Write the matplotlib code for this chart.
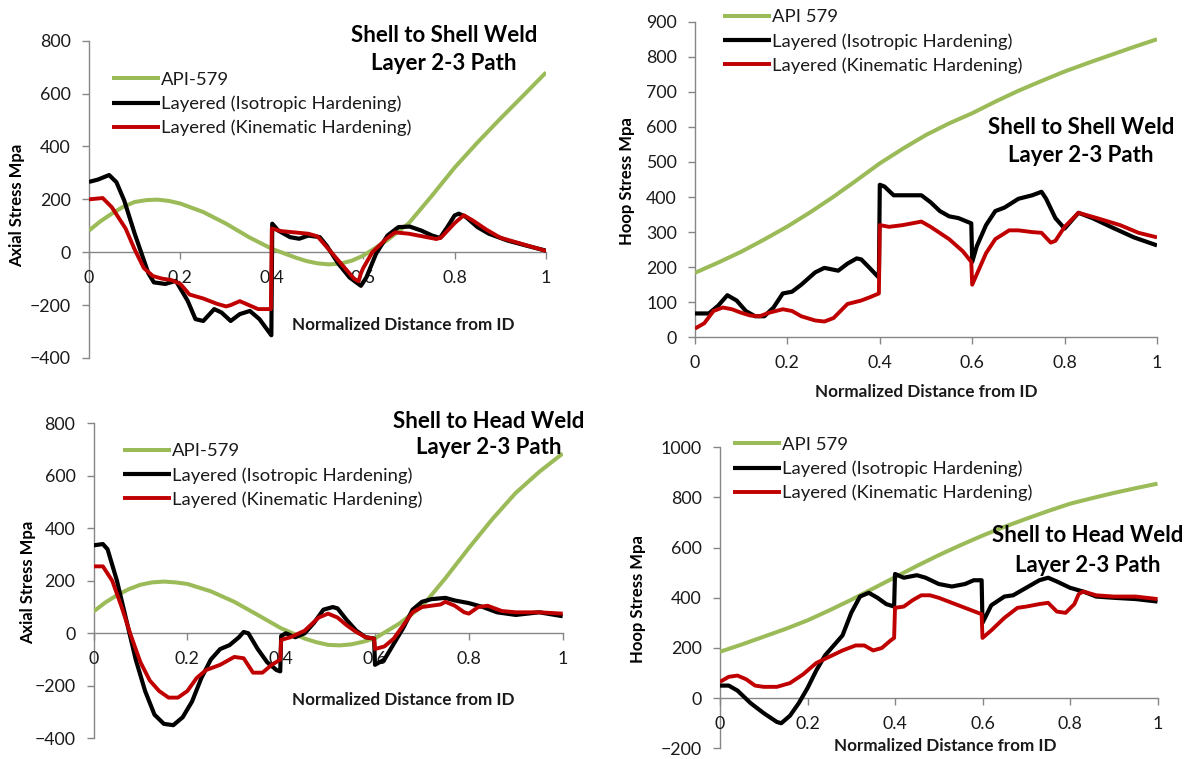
import matplotlib
matplotlib.use("Agg")
import matplotlib.pyplot as plt

plt.rcParams['font.family'] = ['Lato', 'DejaVu Sans']

W, H = 1187, 759

GREEN = '#9BBB59'
BLACK = '#000000'
RED = '#C00000'
AXIS_GRAY = '#868686'

labels_axial = ['API-579', 'Layered (Isotropic Hardening)', 'Layered (Kinematic Hardening)']
labels_hoop = ['API 579', 'Layered (Isotropic Hardening)', 'Layered (Kinematic Hardening)']

# --- shell to shell, axial ---
x_api_ss_ax = [0, 0.025, 0.05, 0.075, 0.1, 0.125, 0.15, 0.175, 0.2, 0.25, 0.3, 0.35, 0.4, 0.45, 0.475, 0.5,
               0.525, 0.55, 0.575, 0.6, 0.65, 0.7, 0.75, 0.8, 0.85, 0.9, 0.95, 1.0]
api_ss_ax = [82, 117, 146, 172, 190, 197, 199, 194, 184, 152, 108, 57, 13, -19, -33, -42,
             -46, -43, -32, -13, 42, 110, 213, 320, 415, 505, 592, 680]
x_iso_ss_ax = [0, 0.02, 0.044, 0.06, 0.077, 0.1, 0.114, 0.13, 0.142, 0.167, 0.19, 0.216, 0.233, 0.25, 0.274, 0.29,
               0.31, 0.33, 0.352, 0.373, 0.393, 0.399, 0.401, 0.414, 0.44, 0.46, 0.48, 0.505, 0.52, 0.546, 0.57,
               0.595, 0.607, 0.628, 0.653, 0.677, 0.702, 0.727, 0.751, 0.768, 0.784, 0.8, 0.809, 0.825, 0.85,
               0.875, 0.916, 0.957, 1.0]
iso_ss_ax = [266, 275, 292, 265, 196, 70, 0, -80, -114, -120, -108, -184, -253, -260, -215, -228,
             -260, -234, -222, -253, -300, -314, 108, 82, 57, 51, 63, 57, 25, -44, -95,
             -127, -95, -6, 63, 95, 97, 82, 63, 54, 95, 139, 146, 133, 95,
             70, 44, 25, 6]
x_kin_ss_ax = [0, 0.03, 0.05, 0.08, 0.1, 0.12, 0.14, 0.16, 0.18, 0.2, 0.22, 0.25, 0.28, 0.3, 0.31, 0.33, 0.35,
               0.37, 0.398, 0.4, 0.42, 0.45, 0.48, 0.5, 0.52, 0.55, 0.58, 0.59, 0.595, 0.6, 0.62, 0.65, 0.67,
               0.7, 0.73, 0.76, 0.77, 0.8, 0.82, 0.84, 0.87, 0.9, 0.95, 1.0]
kin_ss_ax = [200, 205, 170, 90, 10, -60, -90, -100, -105, -120, -160, -175, -195, -205, -200, -185, -200,
             -215, -215, 90, 80, 75, 70, 60, 20, -40, -100, -110, -80, -60, 0, 50, 75,
             70, 60, 50, 55, 110, 140, 120, 85, 55, 30, 5]

# --- shell to shell, hoop ---
x_api_ss_hp = [0, 0.05, 0.1, 0.15, 0.2, 0.25, 0.3, 0.35, 0.4, 0.45, 0.5, 0.55, 0.6, 0.65, 0.7, 0.75, 0.8, 0.85, 0.9, 0.95, 1.0]
api_ss_hp = [184, 213, 244, 279, 316, 357, 401, 448, 496, 538, 577, 610, 639, 672, 703, 731, 758, 782, 805, 828, 850]
x_iso_ss_hp = [0, 0.03, 0.05, 0.07, 0.09, 0.11, 0.13, 0.15, 0.17, 0.19, 0.21, 0.23, 0.26, 0.28, 0.31, 0.33, 0.35,
               0.36, 0.38, 0.398, 0.4, 0.41, 0.43, 0.46, 0.49, 0.51, 0.53, 0.55, 0.57, 0.598, 0.6, 0.61, 0.63,
               0.65, 0.67, 0.7, 0.73, 0.75, 0.76, 0.78, 0.8, 0.83, 0.86, 0.9, 0.95, 1.0]
iso_ss_hp = [68, 68, 90, 120, 105, 75, 60, 60, 85, 125, 130, 150, 185, 198, 190, 210, 225,
             222, 195, 170, 435, 430, 405, 405, 405, 385, 360, 345, 340, 325, 215, 260, 320,
             360, 370, 395, 405, 415, 395, 340, 310, 355, 340, 315, 285, 262]
x_kin_ss_hp = [0, 0.02, 0.04, 0.06, 0.08, 0.1, 0.12, 0.14, 0.16, 0.19, 0.21, 0.23, 0.26, 0.28, 0.3, 0.33, 0.36,
               0.38, 0.398, 0.4, 0.42, 0.45, 0.49, 0.51, 0.55, 0.58, 0.598, 0.6, 0.61, 0.63, 0.65, 0.68, 0.7,
               0.73, 0.75, 0.77, 0.78, 0.8, 0.83, 0.87, 0.92, 0.96, 1.0]
kin_ss_hp = [25, 40, 75, 85, 80, 70, 62, 60, 70, 80, 75, 60, 48, 45, 55, 95, 105,
             115, 125, 320, 315, 320, 330, 315, 280, 245, 215, 150, 180, 240, 280, 305, 305,
             300, 298, 270, 275, 315, 355, 340, 320, 298, 285]

# --- shell to head, axial ---
x_api_sh_ax = [0, 0.025, 0.05, 0.075, 0.1, 0.125, 0.15, 0.175, 0.2, 0.25, 0.3, 0.35, 0.4, 0.45, 0.475, 0.5,
               0.525, 0.55, 0.575, 0.6, 0.65, 0.7, 0.75, 0.8, 0.85, 0.9, 0.95, 1.0]
api_sh_ax = [83, 117, 145, 168, 185, 194, 197, 194, 188, 160, 120, 70, 19, -20, -34, -44,
             -46, -42, -32, -19, 35, 102, 210, 325, 435, 535, 615, 685]
x_iso_sh_ax = [0, 0.02, 0.03, 0.05, 0.07, 0.09, 0.11, 0.13, 0.15, 0.17, 0.19, 0.21, 0.23, 0.25, 0.27, 0.29, 0.31,
               0.32, 0.33, 0.35, 0.37, 0.39, 0.398, 0.4, 0.41, 0.43, 0.45, 0.47, 0.49, 0.51, 0.52, 0.54, 0.56,
               0.58, 0.598, 0.6, 0.62, 0.64, 0.66, 0.68, 0.7, 0.72, 0.75, 0.77, 0.8, 0.83, 0.86, 0.9, 0.95, 1.0]
iso_sh_ax = [335, 340, 320, 200, 50, -100, -220, -310, -345, -350, -320, -260, -170, -100, -60, -45, -15,
             5, 0, -60, -110, -140, -145, -10, 0, -15, 0, 40, 90, 100, 95, 50, 10,
             -15, -20, -120, -100, -40, 20, 90, 120, 130, 135, 125, 115, 100, 80, 70, 80, 65]
x_kin_sh_ax = [0, 0.02, 0.04, 0.06, 0.08, 0.1, 0.12, 0.14, 0.16, 0.18, 0.2, 0.22, 0.24, 0.27, 0.3, 0.32, 0.34,
               0.36, 0.38, 0.398, 0.4, 0.42, 0.45, 0.48, 0.5, 0.52, 0.54, 0.56, 0.58, 0.598, 0.6, 0.62, 0.64,
               0.66, 0.68, 0.7, 0.72, 0.74, 0.75, 0.77, 0.79, 0.8, 0.82, 0.84, 0.87, 0.9, 0.95, 1.0]
kin_sh_ax = [255, 255, 200, 100, -10, -110, -180, -220, -245, -245, -220, -170, -140, -120, -90, -95, -150,
             -150, -120, -100, -25, -15, 10, 60, 75, 60, 30, 5, -15, -20, -60, -50, -20,
             30, 80, 100, 105, 110, 120, 105, 80, 75, 100, 105, 85, 80, 80, 75]

# --- shell to head, hoop ---
x_api_sh_hp = [0, 0.05, 0.1, 0.15, 0.2, 0.25, 0.3, 0.35, 0.4, 0.45, 0.5, 0.55, 0.6, 0.65, 0.7, 0.75, 0.8, 0.85, 0.9, 0.95, 1.0]
api_sh_hp = [185, 214, 245, 276, 310, 350, 392, 437, 482, 527, 570, 610, 648, 683, 715, 746, 775, 797, 818, 837, 855]
x_iso_sh_hp = [0, 0.02, 0.04, 0.07, 0.1, 0.13, 0.14, 0.16, 0.18, 0.2, 0.22, 0.24, 0.26, 0.28, 0.3, 0.32, 0.34,
               0.36, 0.38, 0.398, 0.4, 0.42, 0.45, 0.47, 0.5, 0.53, 0.56, 0.58, 0.598, 0.6, 0.62, 0.65, 0.67,
               0.7, 0.73, 0.75, 0.77, 0.8, 0.83, 0.86, 0.9, 0.95, 1.0]
iso_sh_hp = [50, 50, 30, -20, -60, -95, -100, -70, -20, 40, 110, 170, 210, 250, 340, 405, 420,
             400, 375, 365, 495, 480, 490, 480, 455, 445, 455, 470, 470, 300, 370, 405, 410,
             440, 470, 480, 465, 440, 425, 405, 400, 395, 385]
x_kin_sh_hp = [0, 0.02, 0.04, 0.06, 0.08, 0.1, 0.13, 0.16, 0.19, 0.22, 0.25, 0.28, 0.31, 0.33, 0.35, 0.37, 0.39,
               0.398, 0.4, 0.42, 0.44, 0.46, 0.48, 0.5, 0.53, 0.56, 0.59, 0.598, 0.6, 0.62, 0.65, 0.68, 0.7,
               0.73, 0.75, 0.77, 0.79, 0.81, 0.82, 0.83, 0.86, 0.9, 0.95, 1.0]
kin_sh_hp = [65, 85, 90, 75, 50, 45, 45, 60, 95, 140, 165, 190, 210, 210, 190, 200, 230,
             240, 360, 365, 390, 410, 410, 400, 380, 360, 340, 335, 240, 270, 320, 360, 365,
             375, 380, 345, 340, 375, 415, 425, 410, 405, 405, 395]

x_ticks = [0, 0.2, 0.4, 0.6, 0.8, 1]
x_ticklabels = ['0', '0.2', '0.4', '0.6', '0.8', '1']


def px_box(left, top, right, bottom):
    return [left / W, 1 - bottom / H, (right - left) / W, (bottom - top) / H]


def fpos(x, y):
    return (x / W, 1 - y / H)


fig = plt.figure(figsize=(W / 100, H / 100), dpi=100)
fig.patch.set_facecolor('white')

panels = [
    dict(box=(89, 40.7, 546, 358), ylim=(-400, 800), step=200, labels=labels_axial,
         data=[(x_api_ss_ax, api_ss_ax), (x_iso_ss_ax, iso_ss_ax), (x_kin_ss_ax, kin_ss_ax)],
         leg=(112, 104), ylabel='Axial Stress Mpa', ylab_pos=(17, 205),
         title=(444, 36, 63), title_text='Shell to Shell Weld', xlab_pos=(403, 325)),
    dict(box=(695, 21.7, 1157, 337.3), ylim=(0, 900), step=100, labels=labels_hoop,
         data=[(x_api_ss_hp, api_ss_hp), (x_iso_ss_hp, iso_ss_hp), (x_kin_ss_hp, kin_ss_hp)],
         leg=(723, 41.5), ylabel='Hoop Stress Mpa', ylab_pos=(627, 181),
         title=(1081, 127, 155), title_text='Shell to Shell Weld', xlab_pos=(926, 392)),
    dict(box=(93.5, 423.3, 562.7, 738.3), ylim=(-400, 800), step=200, labels=labels_axial,
         data=[(x_api_sh_ax, api_sh_ax), (x_iso_sh_ax, iso_sh_ax), (x_kin_sh_ax, kin_sh_ax)],
         leg=(123, 475.5), ylabel='Axial Stress Mpa', ylab_pos=(28, 582),
         title=(489, 421, 448), title_text='Shell to Head Weld', xlab_pos=(403, 700)),
    dict(box=(720, 447.3, 1157.5, 748.3), ylim=(-200, 1000), step=200, labels=labels_hoop,
         data=[(x_api_sh_hp, api_sh_hp), (x_iso_sh_hp, iso_sh_hp), (x_kin_sh_hp, kin_sh_hp)],
         leg=(733, 469), ylabel='Hoop Stress Mpa', ylab_pos=(638, 599),
         title=(1088, 535, 565), title_text='Shell to Head Weld', xlab_pos=(945, 746)),
]

colors = [GREEN, BLACK, RED]
widths = [2.9, 3.0, 2.8]

for p in panels:
    ax = fig.add_axes(px_box(*p['box']))
    lines = []
    for (xs, ys), c, lw, lab in zip(p['data'], colors, widths, p['labels']):
        ln, = ax.plot(xs, ys, color=c, lw=lw, label=lab, solid_joinstyle='round', solid_capstyle='butt')
        lines.append(ln)
    ax.set_xlim(0, 1)
    ax.set_ylim(*p['ylim'])
    ax.set_xticks(x_ticks)
    ax.set_xticklabels(x_ticklabels)
    ax.set_yticks(range(p['ylim'][0], p['ylim'][1] + 1, p['step']))
    ax.patch.set_alpha(0)
    for s in ['top', 'right']:
        ax.spines[s].set_visible(False)
    ax.spines['bottom'].set_position(('data', 0))
    for s in ['left', 'bottom']:
        ax.spines[s].set_color(AXIS_GRAY)
        ax.spines[s].set_linewidth(1.0)
        ax.spines[s].set_zorder(0.5)
    ax.tick_params(axis='both', direction='out', length=5, width=1, color=AXIS_GRAY,
                   labelsize=12.8, labelcolor='#1a1a1a')
    ax.tick_params(axis='x', pad=8)
    ax.tick_params(axis='y', pad=8)

    leg = ax.legend(handles=lines, loc='center left', bbox_to_anchor=fpos(*p['leg']),
                    bbox_transform=fig.transFigure, frameon=False, borderpad=0, borderaxespad=0,
                    handlelength=2.6, handletextpad=0.05, labelspacing=0.42, fontsize=13.3)
    for t in leg.get_texts():
        t.set_color('#1a1a1a')

    tx, ty1, ty2 = p['title']
    fig.text(*fpos(tx, ty1), p['title_text'], ha='center', va='center', fontsize=16, fontweight='bold')
    fig.text(*fpos(tx, ty2), 'Layer 2-3 Path', ha='center', va='center', fontsize=16, fontweight='bold')
    fig.text(*fpos(*p['ylab_pos']), p['ylabel'], ha='center', va='center', rotation=90,
             fontsize=12, fontweight='bold')
    fig.text(*fpos(*p['xlab_pos']), 'Normalized Distance from ID', ha='center', va='center',
             fontsize=12.3, fontweight='bold', color='#1a1a1a')

fig.savefig('out.png', dpi=100, facecolor='white')
